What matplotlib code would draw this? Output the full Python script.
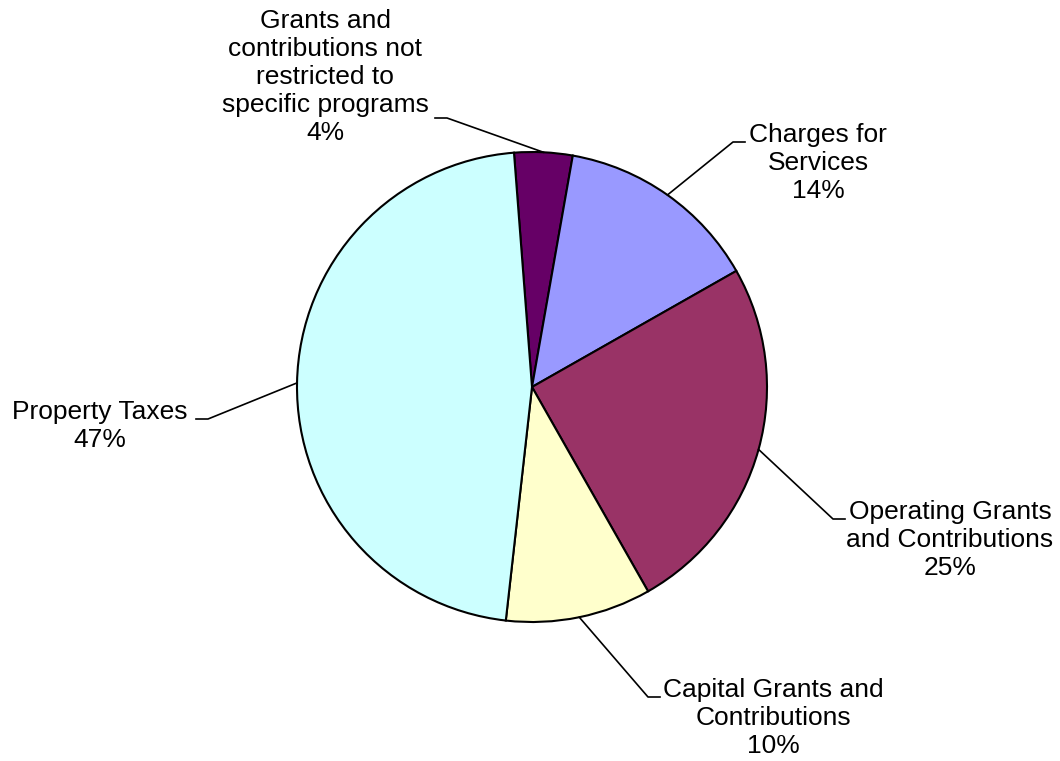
import numpy as np
import matplotlib
matplotlib.use('Agg')
import matplotlib.pyplot as plt

# data
categories = ['Grants and\ncontributions not\nrestricted to\nspecific programs',
              'Charges for\nServices',
              'Operating Grants\nand Contributions',
              'Capital Grants and\nContributions',
              'Property Taxes']
percents = [4, 14, 25, 10, 47]
colors = ['#660066', '#9999FF', '#993366', '#FFFFCC', '#CCFFFF']

# layout in pixels (y down), converted below
W, H = 1060, 761
center_px = (532, 387)
radius_px = 235
# text centre, elbow of leader line, end of horizontal tick
text_px = [(325, 77), (818, 163), (950, 540), (773, 718), (100, 426)]
elbow_px = [(447, 118), (733, 142), (833, 519), (648, 697), (208, 419)]
tick_px = [(435, 118), (745, 142), (845, 519), (660, 697), (196, 419)]

plt.rcParams['font.family'] = ['Liberation Sans', 'DejaVu Sans']

fig = plt.figure(figsize=(W / 100, H / 100), dpi=100)
ax = fig.add_axes([0, 0, 1, 1])


def flip(p):
    return (p[0], H - p[1])


cx, cy = flip(center_px)
wedges, _ = ax.pie(percents, colors=colors, startangle=94.4, counterclock=False,
                   center=(cx, cy), radius=radius_px, frame=True,
                   wedgeprops=dict(edgecolor='black', linewidth=1.5))
ax.set_xlim(0, W)
ax.set_ylim(0, H)
ax.set_aspect('equal')
ax.axis('off')

# leader lines from wedge midpoints + labels
for i, w in enumerate(wedges):
    mid = np.deg2rad((w.theta1 + w.theta2) / 2)
    sx = cx + radius_px * np.cos(mid)
    sy = cy + radius_px * np.sin(mid)
    ex, ey = flip(elbow_px[i])
    tx, ty = flip(tick_px[i])
    ax.plot([sx, ex, tx], [sy, ey, ty], color='black', lw=1.2)
    lx, ly = flip(text_px[i])
    ax.text(lx, ly, f'{categories[i]}\n{percents[i]}%', ha='center', va='center',
            multialignment='center', fontsize=19, color='black')

fig.savefig('out.png', dpi=100)
